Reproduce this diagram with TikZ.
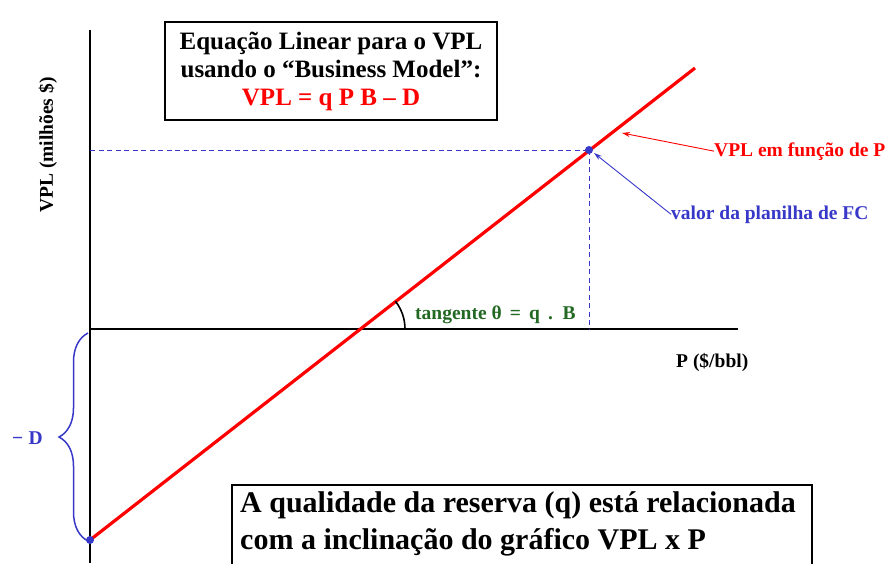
\documentclass[tikz,border=0pt]{standalone}
\usepackage{fontspec}
\setmainfont{Liberation Serif}
\usetikzlibrary{decorations.pathreplacing,arrows.meta}
\definecolor{myred}{RGB}{255,0,0}
\definecolor{myblue}{RGB}{55,55,200}
\definecolor{mygreen}{RGB}{35,105,35}
\tikzset{
  axis/.style={line width=2.3pt, black},
  guide/.style={myblue, line width=0.9pt, dash pattern=on 5pt off 3.5pt},
  lbl/.style={font=\fontsize{19.5}{23}\selectfont\bfseries, inner sep=0pt},
  pointer/.style={line width=0.9pt, -{Stealth[length=8pt,width=5pt]}},
}
\begin{document}
\begin{tikzpicture}[x=1pt,y=-1pt]
\useasboundingbox (0,0) rectangle (890,563);
% axes
\coordinate (ytop) at (90,30);
\coordinate (ybot) at (90,563);
\coordinate (O) at (90,329);
\coordinate (xend) at (738,329);
\draw[axis] (ytop) -- (ybot);
\draw[axis] (O) -- (xend);
% points
\coordinate (A) at (90,540);
\coordinate (E) at (695,68);
\coordinate (P) at (589,150);
\coordinate (Py) at (90,150);
\coordinate (Px) at (589,329);
\coordinate (Z) at (360,329);
% dashed guides
\draw[guide] (Py) -- (P);
\draw[guide] (P) -- (Px);
% red line
\draw[myred, line width=3.2pt] (A) -- (E);
% dots
\fill[myblue] (P) circle (4pt);
\fill[myblue] (A) circle (4pt);
% angle
\draw[line width=1.6pt] ([shift={(45,0)}]Z) arc[start angle=0, end angle=-38, radius=45];
\node[lbl, mygreen, anchor=base west] (tg) at (415,319) {tangente θ\, =\, q\, .\, B};
% axis labels
\node[lbl, rotate=90, anchor=center] (ylab) at (48,145) {VPL (milhões \$)};
\node[lbl, anchor=base west] (xlab) at (676,367) {P (\$/bbl)};
% annotations
\node[lbl, myred, anchor=base west] (vplf) at (714,156) {VPL em função de P};
\coordinate (redtip) at (622,133);
\draw[pointer, myred] (vplf.west) -- (redtip);
\node[lbl, myblue, anchor=base west] (valor) at (671,219) {valor da planilha de FC};
\coordinate (bluetip) at (594,153);
\draw[pointer, myblue] (valor.west) -- (bluetip);
% brace
\coordinate (bA) at (88,541);
\coordinate (bB) at (88,333);
\draw[myblue, line width=1.5pt, decorate, decoration={brace, amplitude=29pt}] (bA) -- (bB);
\node[lbl, myblue, anchor=base west] (mD) at (12,444) {−\;D};
% title box
\node[draw, line width=1.8pt, minimum width=332pt, minimum height=98pt, inner sep=0pt, align=center,
      font=\fontsize{25}{28}\selectfont\bfseries] (title) at (331,71)
  {Equação Linear para o VPL\\usando o “Business Model”:\\\textcolor{myred}{VPL = q P B – D}};
% bottom box
\coordinate (bb1) at (232,485);
\coordinate (bb2) at (812,580);
\draw[line width=1.5pt, fill=white] (bb1) rectangle (bb2);
\node[anchor=north west, align=left, inner sep=0pt,
      font=\fontsize{30}{37}\selectfont\bfseries] (bottom) at (240,491)
  {A qualidade da reserva (q) está relacionada\\com a inclinação do gráfico VPL x P};
\end{tikzpicture}
\end{document}
